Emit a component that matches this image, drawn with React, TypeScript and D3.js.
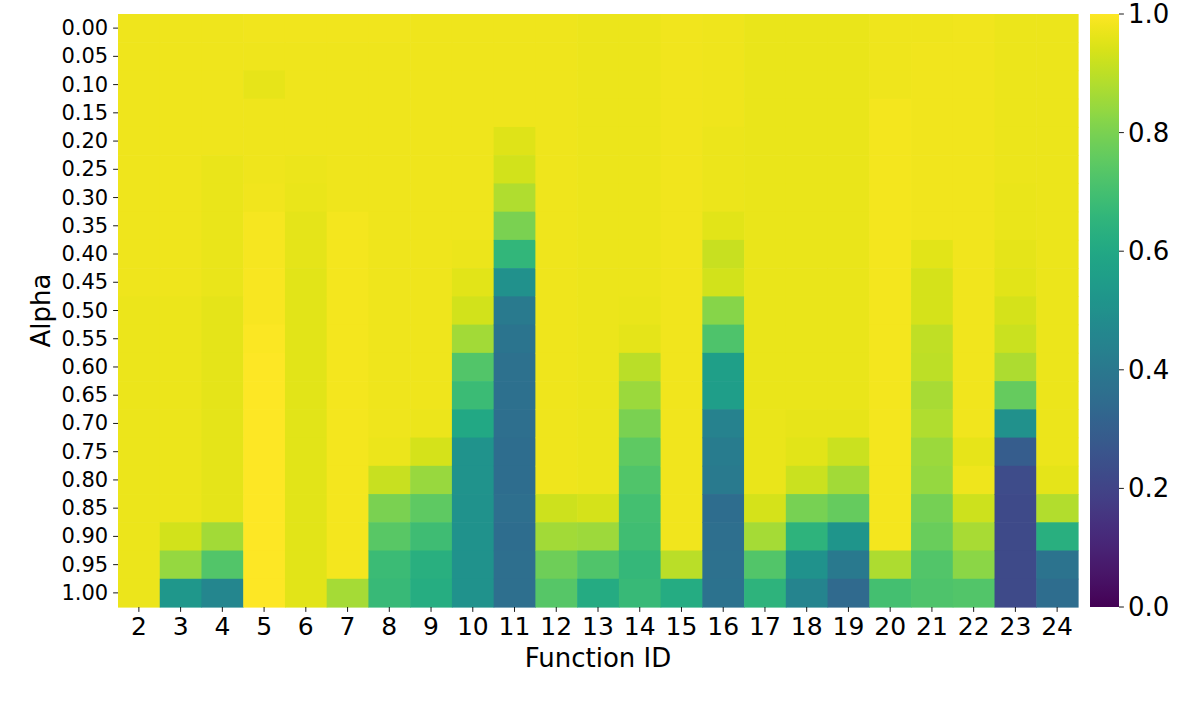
import React from "react";
import * as d3 from "d3";

const functionIds = [2, 3, 4, 5, 6, 7, 8, 9, 10, 11, 12, 13, 14, 15, 16, 17, 18, 19, 20, 21, 22, 23, 24];
const alphaLabels = ["0.00","0.05","0.10","0.15","0.20","0.25","0.30","0.35","0.40","0.45","0.50","0.55","0.60","0.65","0.70","0.75","0.80","0.85","0.90","0.95","1.00"];
const colorbarTicks = [0, 0.2, 0.4, 0.6, 0.8, 1.0];

// values per function ID, from alpha 0.00 (top) to 1.00 (bottom)
const f2 = [0.975,0.975,0.975,0.975,0.975,0.975,0.975,0.975,0.975,0.975,0.97,0.97,0.97,0.97,0.97,0.97,0.97,0.97,0.97,0.97,0.97];
const f3 = [0.975,0.975,0.975,0.975,0.975,0.975,0.975,0.975,0.975,0.975,0.97,0.97,0.97,0.97,0.97,0.97,0.97,0.97,0.93,0.84,0.53];
const f4 = [0.975,0.975,0.975,0.975,0.975,0.968,0.968,0.968,0.968,0.968,0.96,0.96,0.96,0.96,0.96,0.96,0.96,0.96,0.86,0.73,0.46];
const f5 = [0.978,0.975,0.963,0.975,0.975,0.975,0.98,0.985,0.985,0.99,0.99,0.995,1,1,1,1,1,1,1,1,1];
const f6 = [0.978,0.975,0.975,0.975,0.975,0.97,0.965,0.96,0.958,0.955,0.955,0.955,0.955,0.955,0.955,0.955,0.955,0.955,0.955,0.955,0.955];
const f7 = [0.98,0.975,0.975,0.975,0.975,0.975,0.975,0.982,0.982,0.982,0.982,0.982,0.982,0.982,0.982,0.982,0.982,0.982,0.982,0.982,0.865];
const f8 = [0.978,0.975,0.975,0.975,0.975,0.975,0.975,0.975,0.975,0.975,0.975,0.975,0.975,0.975,0.975,0.97,0.915,0.8,0.74,0.68,0.675];
const f9 = [0.975,0.975,0.975,0.975,0.975,0.975,0.975,0.975,0.975,0.975,0.975,0.975,0.975,0.975,0.97,0.935,0.845,0.75,0.69,0.63,0.62];
const f10 = [0.975,0.975,0.975,0.975,0.975,0.975,0.975,0.975,0.97,0.955,0.93,0.86,0.73,0.68,0.6,0.515,0.515,0.51,0.51,0.51,0.51];
const f11 = [0.975,0.975,0.975,0.975,0.95,0.93,0.88,0.8,0.66,0.5,0.41,0.385,0.37,0.365,0.36,0.355,0.355,0.36,0.355,0.36,0.36];
const f12 = [0.975,0.975,0.975,0.975,0.975,0.975,0.975,0.975,0.975,0.975,0.975,0.975,0.975,0.975,0.975,0.975,0.975,0.925,0.86,0.78,0.735];
const f13 = [0.972,0.972,0.972,0.972,0.972,0.972,0.972,0.972,0.972,0.972,0.972,0.972,0.972,0.972,0.972,0.972,0.972,0.935,0.855,0.725,0.61];
const f14 = [0.972,0.972,0.972,0.972,0.972,0.972,0.972,0.972,0.972,0.972,0.965,0.96,0.895,0.85,0.8,0.75,0.725,0.7,0.695,0.665,0.675];
const f15 = [0.978,0.978,0.978,0.978,0.978,0.978,0.978,0.978,0.978,0.978,0.978,0.978,0.978,0.978,0.978,0.978,0.978,0.978,0.978,0.895,0.615];
const f16 = [0.975,0.975,0.975,0.975,0.97,0.97,0.97,0.955,0.915,0.93,0.82,0.72,0.56,0.555,0.44,0.415,0.41,0.355,0.36,0.37,0.375];
const f17 = [0.968,0.968,0.968,0.968,0.968,0.968,0.968,0.968,0.968,0.968,0.968,0.968,0.968,0.968,0.968,0.968,0.968,0.935,0.865,0.73,0.645];
const f18 = [0.968,0.968,0.968,0.968,0.968,0.968,0.968,0.968,0.968,0.968,0.968,0.968,0.968,0.968,0.962,0.955,0.92,0.795,0.645,0.51,0.45];
const f19 = [0.968,0.968,0.968,0.968,0.968,0.968,0.968,0.968,0.968,0.968,0.968,0.968,0.968,0.968,0.962,0.92,0.86,0.765,0.52,0.405,0.34];
const f20 = [0.975,0.975,0.975,0.982,0.982,0.982,0.982,0.982,0.982,0.982,0.982,0.982,0.982,0.982,0.982,0.982,0.982,0.982,0.982,0.875,0.7];
const f21 = [0.975,0.98,0.98,0.98,0.98,0.98,0.98,0.98,0.955,0.935,0.935,0.905,0.9,0.87,0.88,0.85,0.84,0.79,0.77,0.73,0.72];
const f22 = [0.978,0.978,0.978,0.978,0.978,0.978,0.978,0.978,0.978,0.978,0.978,0.978,0.978,0.978,0.978,0.962,0.975,0.925,0.87,0.825,0.73];
const f23 = [0.97,0.97,0.97,0.97,0.97,0.97,0.965,0.965,0.96,0.955,0.935,0.92,0.875,0.765,0.5,0.29,0.23,0.225,0.225,0.225,0.225];
const f24 = [0.97,0.97,0.97,0.97,0.97,0.97,0.97,0.97,0.97,0.97,0.97,0.97,0.97,0.97,0.97,0.97,0.96,0.885,0.63,0.38,0.355];

const columns = [f2, f3, f4, f5, f6, f7, f8, f9, f10, f11, f12, f13, f14, f15, f16, f17, f18, f19, f20, f21, f22, f23, f24];

const W = 1196;
const H = 701;
const left = 118, right = 1078, top = 14, bottom = 607;
const cbLeft = 1090, cbRight = 1119;
const FONT = "DejaVu Sans, sans-serif";

export default function App() {
  const x = d3.scaleBand<number>().domain(functionIds).range([left, right]).padding(0);
  const y = d3.scaleBand<string>().domain(alphaLabels).range([top, bottom]).padding(0);
  const color = d3.scaleSequential(d3.interpolateViridis).domain([0, 1]);
  const cbScale = d3.scaleLinear().domain([0, 1]).range([bottom, top]);
  const stops = d3.range(0, 1.0001, 0.02);

  const cells: React.ReactNode[] = [];
  columns.forEach((col, ci) => {
    const fid = functionIds[ci];
    col.forEach((v, ri) => {
      const a = alphaLabels[ri];
      cells.push(
        <rect
          key={`${fid}-${a}`}
          x={x(fid)!}
          y={y(a)!}
          width={x.bandwidth() + 0.6}
          height={y.bandwidth() + 0.6}
          fill={color(v)}
        />
      );
    });
  });

  return (
    <svg width={W} height={H} style={{ position: "absolute", left: 0, top: 0, background: "#fff" }} fontFamily={FONT}>
      <defs>
        <linearGradient id="vir" x1="0" y1="1" x2="0" y2="0">
          {stops.map((s) => (
            <stop key={s} offset={s} stopColor={d3.interpolateViridis(s)} />
          ))}
        </linearGradient>
      </defs>
      <rect x={0} y={0} width={W} height={H} fill="#fff" />
      <g>{cells}</g>

      {/* y axis */}
      {alphaLabels.map((a) => {
        const cy = y(a)! + y.bandwidth() / 2;
        return (
          <g key={a}>
            <line x1={left - 4.9} x2={left} y1={cy} y2={cy} stroke="#000" strokeWidth={0.9} />
            <text x={left - 9.8} y={cy} textAnchor="end" dominantBaseline="central" fontSize={21}>
              {a}
            </text>
          </g>
        );
      })}
      <text
        transform={`translate(50, ${(top + bottom) / 2}) rotate(-90)`}
        textAnchor="middle"
        fontSize={26}
      >
        Alpha
      </text>

      {/* x axis */}
      {functionIds.map((f) => {
        const cx = x(f)! + x.bandwidth() / 2;
        return (
          <g key={f}>
            <line x1={cx} x2={cx} y1={bottom} y2={bottom + 4.9} stroke="#000" strokeWidth={0.9} />
            <text x={cx} y={bottom + 28} textAnchor="middle" fontSize={25}>
              {f}
            </text>
          </g>
        );
      })}
      <text x={(left + right) / 2} y={667} textAnchor="middle" fontSize={26}>
        Function ID
      </text>

      {/* colorbar */}
      <rect x={cbLeft} y={top} width={cbRight - cbLeft} height={bottom - top} fill="url(#vir)" />
      {colorbarTicks.map((t) => {
        const cy = cbScale(t);
        return (
          <g key={t}>
            <line x1={cbRight} x2={cbRight + 4.9} y1={cy} y2={cy} stroke="#000" strokeWidth={0.9} />
            <text x={cbRight + 9} y={cy} dominantBaseline="central" fontSize={26}>
              {t.toFixed(1)}
            </text>
          </g>
        );
      })}
    </svg>
  );
}
